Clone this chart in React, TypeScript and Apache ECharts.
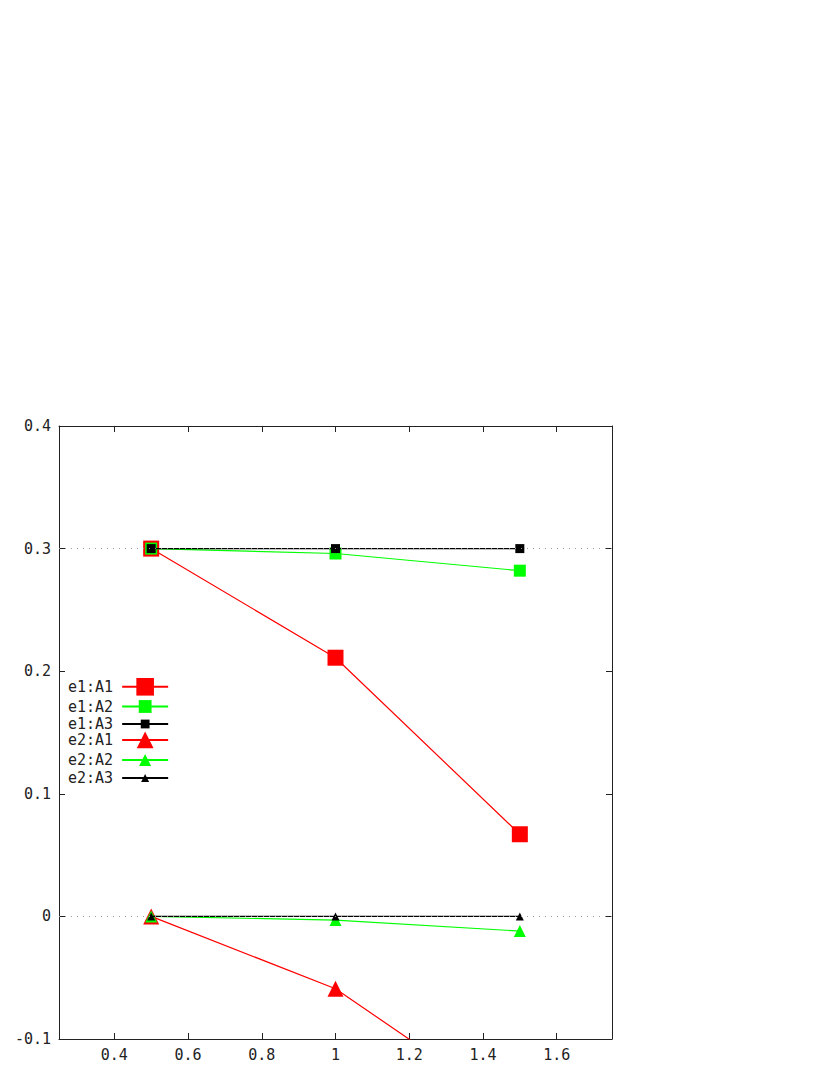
import React, { useEffect, useRef } from "react";
import * as echarts from "echarts";

const xValues = [0.5, 1.0, 1.5];
const e1A1 = [0.3, 0.211, 0.067];
const e1A2 = [0.3, 0.296, 0.282];
const e1A3 = [0.3, 0.3, 0.3];
const e2A1 = [0.0, -0.059, -0.162];
const e2A2 = [0.0, -0.003, -0.012];
const e2A3 = [0.0, 0.0, 0.0];
const xTicks = [0.4, 0.6, 0.8, 1.0, 1.2, 1.4, 1.6];
const refLines = [0.3, 0.0];
const seriesNames = ["e1:A1", "e1:A2", "e1:A3", "e2:A1", "e2:A2", "e2:A3"];

const FONT = "DejaVu Sans Mono";

function pts(ys: number[]) {
  return xValues.map((x, i) => [x, ys[i]]);
}

export default function App() {
  const ref = useRef<HTMLDivElement>(null);
  useEffect(() => {
    if (!ref.current) return;
    const chart = echarts.init(ref.current, undefined, { renderer: "svg" });
    const axisLine = { show: true, onZero: false, lineStyle: { color: "#222", width: 1 } };
    const tick = { show: true, inside: true, length: 6, lineStyle: { color: "#222" } };
    const label = { color: "#222", fontFamily: FONT, fontSize: 15 };
    const styles = [
      { color: "#ff0000", symbol: "rect", size: 16, legendH: 22 },
      { color: "#00ff00", symbol: "rect", size: 12, legendH: 16 },
      { color: "#000000", symbol: "rect", size: 9, legendH: 11 },
      { color: "#ff0000", symbol: "triangle", size: 16, legendH: 21 },
      { color: "#00ff00", symbol: "triangle", size: 12, legendH: 15 },
      { color: "#000000", symbol: "triangle", size: 8, legendH: 10 },
    ];
    const datasets = [e1A1, e1A2, e1A3, e2A1, e2A2, e2A3];
    const zs = [2, 3, 4, 2, 3, 4];
    const rowCenters = [689, 707, 724, 742, 760, 778];

    const legends = seriesNames.map((name, i) => {
      const h = Math.max(styles[i].legendH, 15);
      return {
        orient: "vertical",
        left: 68,
        top: rowCenters[i] - h / 2,
        align: "right",
        padding: 0,
        itemWidth: 46,
        itemHeight: styles[i].legendH,
        textStyle: { color: "#222", fontFamily: FONT, fontSize: 15, lineHeight: 15, padding: [0, 4, 0, 0] },
        data: [name],
        selectedMode: false,
      };
    });

    chart.setOption({
      animation: false,
      backgroundColor: "#fff",
      grid: { left: 59, right: 218, top: 426, bottom: 36, containLabel: false },
      xAxis: [
        {
          type: "value",
          min: 0.25,
          max: 1.75,
          position: "bottom",
          axisLine,
          axisTick: { ...tick, customValues: xTicks },
          axisLabel: { ...label, margin: 8, customValues: xTicks, formatter: (v: number) => String(+v.toFixed(1)) },
          splitLine: { show: false },
        },
        {
          type: "value",
          min: 0.25,
          max: 1.75,
          position: "top",
          axisLine,
          axisTick: { ...tick, customValues: xTicks },
          axisLabel: { show: false, customValues: xTicks },
          splitLine: { show: false },
        },
      ],
      yAxis: [
        {
          type: "value",
          min: -0.1,
          max: 0.4,
          interval: 0.1,
          position: "left",
          axisLine,
          axisTick: tick,
          axisLabel: { ...label, margin: 8, formatter: (v: number) => String(+v.toFixed(1)) },
          splitLine: { show: false },
        },
        {
          type: "value",
          min: -0.1,
          max: 0.4,
          interval: 0.1,
          position: "right",
          axisLine,
          axisTick: tick,
          axisLabel: { show: false },
          splitLine: { show: false },
        },
      ],
      legend: legends,
      series: [
        {
          name: "ref",
          type: "line",
          data: [],
          silent: true,
          markLine: {
            silent: true,
            symbol: "none",
            label: { show: false },
            lineStyle: { color: "#999", type: [1, 5], width: 1 },
            data: refLines.map((v) => ({ yAxis: v })),
          },
          z: 1,
        },
        ...seriesNames.map((name, i) => ({
          name,
          type: "line",
          data: pts(datasets[i]),
          symbol: styles[i].symbol,
          symbolSize: styles[i].size,
          showSymbol: true,
          itemStyle: { color: styles[i].color, borderWidth: 0 },
          lineStyle: { color: styles[i].color, width: 1.2 },
          z: zs[i],
          clip: true,
        })),
      ],
    });
    return () => chart.dispose();
  }, []);
  return <div ref={ref} style={{ position: "fixed", left: 0, top: 0, width: 830, height: 1075 }} />;
}
